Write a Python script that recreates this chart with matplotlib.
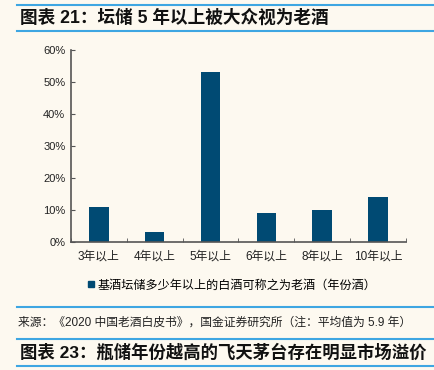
import matplotlib
matplotlib.use("Agg")
import matplotlib.pyplot as plt
from matplotlib.lines import Line2D
from matplotlib.ticker import PercentFormatter

plt.rcParams["font.family"] = ["Liberation Sans", "Noto Sans CJK SC", "DejaVu Sans"]

categories = ["3年以上", "4年以上", "5年以上", "6年以上", "8年以上", "10年以上"]
values = [11, 3, 53, 9, 10, 14]
yticks = [0, 10, 20, 30, 40, 50, 60]
series_name = "基酒坛储多少年以上的白酒可称之为老酒（年份酒）"
title = "图表 21：坛储 5 年以上被大众视为老酒"
source = "来源：《2020 中国老酒白皮书》，国金证券研究所（注：平均值为 5.9 年）"
next_title = "图表 23：瓶储年份越高的飞天茅台存在明显市场溢价"

bg = "#fdf9f0"
bar_color = "#004a73"
rule_color = "#3ea6e2"
axis_color = "#555555"

fig = plt.figure(figsize=(4.35, 3.7), dpi=100, facecolor=bg)
ax = fig.add_axes([0.163, 0.346, 0.77, 0.519], facecolor=bg)

x = list(range(len(categories)))
ax.bar(x, values, width=0.35, color=bar_color)
ax.set_xlim(-0.5, len(categories) - 0.5)
ax.set_ylim(0, 60)
ax.set_yticks(yticks)
ax.yaxis.set_major_formatter(PercentFormatter(decimals=0))
ax.set_xticks(x)
ax.set_xticklabels(categories)
ax.set_xticks([i - 0.5 for i in range(len(categories) + 1)], minor=True)
ax.tick_params(axis="x", which="major", length=0, pad=6, labelsize=8.5, colors="#222222")
ax.tick_params(axis="x", which="minor", length=3, direction="in", color=axis_color)
ax.tick_params(axis="y", length=3, direction="in", color=axis_color, labelsize=8, pad=4,
               labelcolor="#222222")
for s in ["top", "right"]:
    ax.spines[s].set_visible(False)
for s in ["left", "bottom"]:
    ax.spines[s].set_color(axis_color)
    ax.spines[s].set_linewidth(1.2)

# legend
handle = Line2D([], [], marker="s", linestyle="none", color=bar_color, markersize=5)
fig.legend([handle], [series_name], loc="center", bbox_to_anchor=(0.53, 0.228),
           frameon=False, fontsize=8.7, handletextpad=0.1, handlelength=1)

# rules and captions
for yy in [0.986, 0.916, 0.170, 0.084, 0.011]:
    fig.add_artist(Line2D([0.039, 1.0], [yy, yy], color=rule_color, linewidth=1.5,
                          transform=fig.transFigure))

fig.text(0.045, 0.952, title, fontsize=12.7, fontweight="bold", va="center", color="#111111")
fig.text(0.042, 0.128, source, fontsize=8.5, va="center", color="#222222")
fig.text(0.045, 0.048, next_title, fontsize=12.5, fontweight="bold", va="center", color="#111111")

fig.savefig("out.png", dpi=100, facecolor=bg)
